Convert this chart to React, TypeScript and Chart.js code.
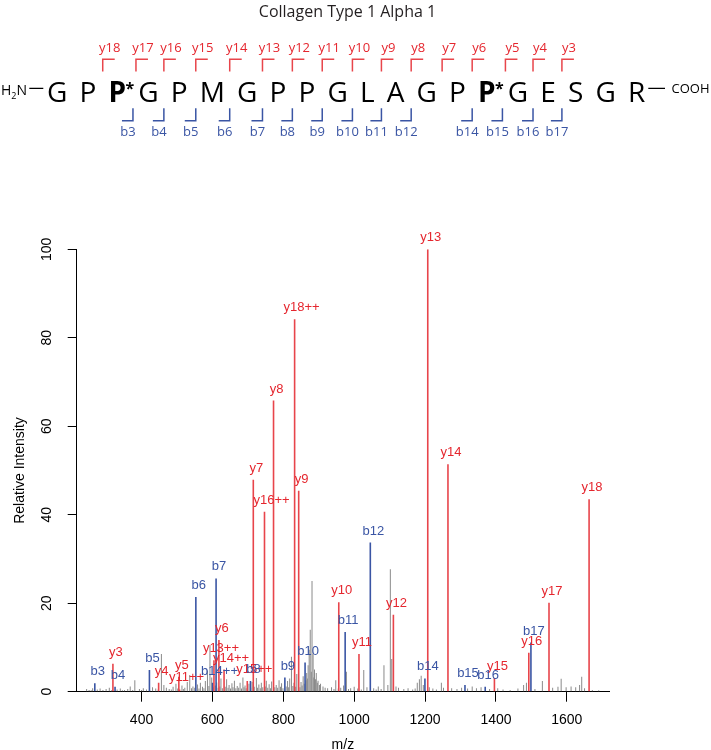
import React, { useEffect, useRef } from 'react';
import { Chart, registerables } from 'chart.js';

Chart.register(...registerables);

// ---------- data ----------
const TITLE = 'Collagen Type 1 Alpha 1';
const sequence = ['G', 'P', 'P*', 'G', 'P', 'M', 'G', 'P', 'P', 'G', 'L', 'A', 'G', 'P', 'P*', 'G', 'E', 'S', 'G', 'R'];
const yIonNumbers = [18, 17, 16, 15, 14, 13, 12, 11, 10, 9, 8, 7, 6, 5, 4, 3];
const bIonNumbers = [3, 4, 5, 6, 7, 8, 9, 10, 11, 12, 14, 15, 16, 17];

const xTicks = [400, 600, 800, 1000, 1200, 1400, 1600];
const yTicks = [0, 20, 40, 60, 80, 100];

const yPeakLabels = ['y3', 'y4', 'y5', 'y11++', 'y13++', 'y6', 'y14++', 'y15++', 'y7', 'y16++', 'y8', 'y18++', 'y9', 'y10', 'y11', 'y12', 'y13', 'y14', 'y15', 'y16', 'y17', 'y18'];
const yPeakMz = [319.2, 448.2, 505.2, 507.3, 604.3, 618.3, 632.8, 698.3, 715.3, 746.9, 772.4, 831.9, 843.4, 956.5, 1013.5, 1110.6, 1207.6, 1264.6, 1395.7, 1492.7, 1549.7, 1662.8];
const yPeakIntensity = [6.3, 2.0, 3.4, 0.5, 7.1, 11.7, 5.0, 2.4, 47.9, 40.7, 65.8, 84.2, 45.4, 20.2, 8.5, 17.4, 100, 51.4, 3.1, 8.8, 20.1, 43.5];

const bPeakLabels = ['b3', 'b4', 'b5', 'b6', 'b14++', 'b7', 'b8', 'b9', 'b10', 'b11', 'b12', 'b14', 'b15', 'b16', 'b17'];
const bPeakMz = [268.1, 325.2, 422.2, 553.2, 600.3, 610.3, 707.3, 804.4, 861.4, 974.5, 1045.5, 1199.6, 1312.6, 1369.7, 1498.7];
const bPeakIntensity = [1.9, 1.1, 4.9, 21.4, 2.0, 25.6, 2.4, 3.2, 6.6, 13.5, 33.7, 3.0, 1.5, 1.1, 11.1];

const noiseMz = [245, 252, 258, 262, 275, 283, 291, 300, 309, 315, 331, 340, 346, 352, 361, 368, 375, 381, 394, 400, 405, 414, 423, 431, 440, 447, 456, 463, 470, 478, 484, 489, 497, 502, 514, 518, 522, 529, 536, 541, 545, 550, 558, 562, 566, 572, 576, 580, 586, 590, 593, 598, 603, 608, 612, 616, 621, 624, 628, 636, 640, 644, 647, 651, 655, 658, 662, 666, 670, 674, 678, 682, 686, 689, 692, 695, 703, 708, 712, 718, 724, 727, 731, 735, 738, 742, 749, 752, 756, 760, 764, 767, 776, 780, 784, 788, 792, 795, 799, 808, 812, 815, 818, 823, 827, 830, 835, 838, 847, 850, 853, 856, 859, 864, 866, 868, 870, 873, 876, 879, 881, 884, 886, 888, 891, 893, 896, 898, 902, 905, 912, 918, 925, 936, 943, 948, 955, 962, 970, 978, 984, 990, 1000, 1010, 1020, 1027, 1036, 1055, 1062, 1068, 1076, 1084, 1095, 1102, 1106, 1118, 1125, 1140, 1152, 1165, 1172, 1178, 1184, 1189, 1195, 1212, 1222, 1232, 1246, 1252, 1275, 1290, 1303, 1320, 1333, 1345, 1358, 1382, 1405, 1420, 1440, 1462, 1478, 1486, 1510, 1531, 1560, 1575, 1584, 1598, 1612, 1625, 1636, 1642, 1650, 1672, 1690];
const noiseIntensity = [0.6, 0.4, 0.3, 0.8, 0.5, 0.7, 0.4, 0.6, 0.9, 0.3, 0.5, 0.7, 0.3, 0.4, 0.6, 1.2, 0.4, 2.6, 0.6, 0.4, 0.8, 0.5, 0.4, 1.0, 0.7, 0.5, 8.5, 1.5, 0.9, 0.6, 0.5, 1.1, 1.8, 0.7, 1.4, 0.6, 0.9, 2.2, 3.8, 0.8, 1.2, 0.9, 1.6, 0.7, 2.0, 1.1, 0.8, 2.4, 4.8, 1.3, 10.5, 3.2, 1.0, 1.4, 2.1, 0.9, 1.2, 3.0, 0.8, 1.1, 2.8, 0.9, 1.5, 0.7, 1.9, 1.0, 2.5, 0.8, 1.3, 0.9, 2.0, 0.7, 3.2, 1.0, 1.4, 0.8, 1.8, 0.9, 2.2, 1.1, 3.1, 0.9, 1.6, 0.8, 2.0, 1.0, 1.2, 2.5, 0.9, 1.7, 0.8, 2.3, 1.0, 1.5, 0.9, 2.6, 1.1, 1.9, 0.8, 1.2, 2.4, 1.0, 3.0, 7.9, 1.3, 2.0, 1.1, 4.0, 1.0, 2.2, 1.4, 3.5, 1.8, 2.6, 4.2, 3.0, 6.0, 9.5, 14.0, 4.5, 25.0, 8.5, 3.2, 5.0, 2.8, 4.2, 2.0, 2.5, 1.5, 1.8, 1.2, 0.9, 0.8, 1.0, 0.6, 2.6, 0.7, 0.9, 1.4, 4.5, 0.6, 0.8, 1.1, 0.7, 0.5, 4.9, 1.0, 0.8, 0.5, 1.2, 0.6, 6.0, 1.5, 27.7, 7.4, 1.2, 0.9, 0.6, 0.8, 0.5, 0.7, 2.0, 2.8, 3.6, 1.5, 1.0, 0.7, 0.5, 2.0, 0.9, 0.8, 0.6, 0.9, 0.7, 1.2, 0.8, 1.0, 0.6, 0.8, 0.5, 0.4, 0.7, 1.5, 2.0, 0.6, 2.4, 0.9, 1.1, 2.9, 1.0, 1.2, 1.0, 1.5, 3.4, 0.8, 0.4, 0.3];

// ---------- styles ----------
const RED = '#E8454B';
const RED_TEXT = '#E5262E';
const BLUE = '#3A55A4';
const GRAY = '#8a8a8a';
const AXIS_FONT = '"Liberation Sans", Arial, sans-serif';
const HEAD_FONT = '"Open Sans", "Noto Sans", sans-serif';

const toPoints = (xs: number[], ys: number[]) => xs.map((x, i) => ({ x, y: ys[i] }));

const headerPlugin = {
  id: 'peptideHeader',
  afterDraw(chart: any) {
    const ctx: CanvasRenderingContext2D = chart.ctx;
    ctx.save();
    ctx.textBaseline = 'alphabetic';
    ctx.textAlign = 'center';

    // title
    ctx.fillStyle = '#231f20';
    ctx.font = `16px ${HEAD_FONT}`;
    ctx.fillText(TITLE, 347.5, 16.5);

    // letters layout
    const widths = sequence.map((s) => {
      ctx.font = `${s.includes('*') ? 'bold ' : ''}28px ${HEAD_FONT}`;
      return ctx.measureText(s[0]).width;
    });
    const raw: number[] = [0];
    for (let i = 1; i < sequence.length; i++) {
      raw.push(raw[i - 1] + widths[i - 1] / 2 + 13 + widths[i] / 2);
    }
    const first = 57.3;
    const last = 636.7;
    const k = (last - first) / raw[raw.length - 1];
    const cx = raw.map((r) => first + r * k);

    const base = 101.7;
    sequence.forEach((s, i) => {
      const bold = s.includes('*');
      ctx.fillStyle = '#000';
      ctx.font = `${bold ? 'bold ' : ''}28px ${HEAD_FONT}`;
      ctx.textAlign = 'center';
      ctx.fillText(s[0], cx[i], base);
      if (bold) {
        ctx.font = `bold 16px ${HEAD_FONT}`;
        ctx.fillText('*', cx[i] + 12.4, base - 8);
      }
    });

    // termini
    ctx.fillStyle = '#000';
    ctx.textAlign = 'left';
    ctx.font = `14px ${HEAD_FONT}`;
    ctx.fillText('H', 1, 94.5);
    const hw = ctx.measureText('H').width;
    ctx.font = `9px ${HEAD_FONT}`;
    ctx.fillText('2', 1 + hw, 98.5);
    const tw = ctx.measureText('2').width;
    ctx.font = `14px ${HEAD_FONT}`;
    ctx.fillText('N', 1 + hw + tw, 94.5);
    ctx.strokeStyle = '#000';
    ctx.lineWidth = 1.3;
    ctx.beginPath();
    ctx.moveTo(29.3, 88.3);
    ctx.lineTo(43.3, 88.3);
    ctx.moveTo(648.3, 88.3);
    ctx.lineTo(665, 88.3);
    ctx.stroke();
    ctx.font = `13px ${HEAD_FONT}`;
    ctx.fillText('COOH', 671.5, 93);

    // y-ion brackets (above)
    ctx.lineWidth = 1.5;
    ctx.textAlign = 'center';
    ctx.font = `13px ${HEAD_FONT}`;
    yIonNumbers.forEach((n) => {
      const site = sequence.length - n; // cleavage after residue `site`
      const afterMod = sequence[site - 1].includes('*') ? 3 : 0;
      const vx = (cx[site - 1] + cx[site]) / 2 + afterMod;
      ctx.strokeStyle = RED;
      ctx.beginPath();
      ctx.moveTo(vx, 71.5);
      ctx.lineTo(vx, 59.3);
      ctx.lineTo(vx + 12, 59.3);
      ctx.stroke();
      ctx.fillStyle = RED_TEXT;
      ctx.fillText('y' + n, vx + 7, 51.5);
    });

    // b-ion brackets (below)
    bIonNumbers.forEach((n) => {
      const vx = (cx[n - 1] + cx[n]) / 2;
      ctx.strokeStyle = BLUE;
      ctx.beginPath();
      ctx.moveTo(vx, 108.3);
      ctx.lineTo(vx, 120.7);
      ctx.lineTo(vx - 11, 120.7);
      ctx.stroke();
      ctx.fillStyle = BLUE;
      ctx.fillText('b' + n, vx - 5, 135.5);
    });

    ctx.restore();
  },
};

const peakLabelPlugin = {
  id: 'peakLabels',
  afterDatasetsDraw(chart: any) {
    const ctx: CanvasRenderingContext2D = chart.ctx;
    ctx.save();
    ctx.font = `13px ${AXIS_FONT}`;
    ctx.textAlign = 'center';
    ctx.textBaseline = 'alphabetic';
    const sets: [number, string[], string][] = [
      [0, yPeakLabels, RED_TEXT],
      [1, bPeakLabels, BLUE],
    ];
    sets.forEach(([di, labels, color]) => {
      const meta = chart.getDatasetMeta(di);
      ctx.fillStyle = color;
      meta.data.forEach((el: any, i: number) => {
        const lab = labels[i];
        const dx = lab.endsWith('++') ? 7 : 3;
        ctx.fillText(lab, el.x + dx, el.y - 8);
      });
    });
    ctx.restore();
  },
};

export default function App() {
  const ref = useRef<HTMLCanvasElement | null>(null);

  useEffect(() => {
    document.body.style.margin = '0';
    const canvas = ref.current;
    if (!canvas) return;
    const chart = new Chart(canvas, {
      type: 'bar',
      data: {
        datasets: [
          {
            label: 'y ions',
            data: toPoints(yPeakMz, yPeakIntensity),
            backgroundColor: RED,
            barThickness: 1.6,
            inflateAmount: 0,
            stack: 'peaks',
            order: 1,
          },
          {
            label: 'b ions',
            data: toPoints(bPeakMz, bPeakIntensity),
            backgroundColor: BLUE,
            barThickness: 1.6,
            inflateAmount: 0,
            stack: 'peaks',
            order: 2,
          },
          {
            label: 'other',
            data: toPoints(noiseMz, noiseIntensity),
            backgroundColor: GRAY,
            barThickness: 1,
            inflateAmount: 0,
            stack: 'peaks',
            order: 3,
          },
        ] as any,
      },
      options: {
        animation: false,
        responsive: false,
        devicePixelRatio: 1,
        layout: { padding: { left: 0, top: 249.3, right: 102, bottom: 0 } },
        plugins: {
          legend: { display: false },
          tooltip: { enabled: false },
          title: { display: false },
        },
        scales: {
          x: {
            type: 'linear',
            min: 217,
            max: 1719,
            offset: false,
            grid: { drawOnChartArea: false, drawTicks: true, tickLength: 10, color: '#000', offset: false },
            border: { display: true, color: '#000', width: 1 },
            ticks: {
              color: '#000',
              padding: 10,
              font: { size: 14, family: AXIS_FONT },
              maxRotation: 0,
              autoSkip: false,
              callback: (v: any) => String(v),
            },
            afterBuildTicks: (s: any) => {
              s.ticks = xTicks.map((v) => ({ value: v }));
            },
            afterFit: (s: any) => {
              s.height = 58.3;
            },
            title: {
              display: true,
              text: 'm/z',
              color: '#000',
              font: { size: 14, family: AXIS_FONT },
              padding: { top: 0, bottom: -3.4 },
            },
          },
          y: {
            type: 'linear',
            min: 0,
            max: 100,
            stacked: false,
            grid: { drawOnChartArea: false, drawTicks: true, tickLength: 9, color: '#000' },
            border: { display: true, color: '#000', width: 1 },
            ticks: {
              color: '#000',
              padding: 9.3,
              minRotation: 90,
              maxRotation: 90,
              crossAlign: 'center',
              font: { size: 14, family: AXIS_FONT },
              callback: (v: any) => String(v),
            },
            afterBuildTicks: (s: any) => {
              s.ticks = yTicks.map((v) => ({ value: v }));
            },
            afterFit: (s: any) => {
              s.width = 76.7;
            },
            title: {
              display: true,
              text: 'Relative Intensity',
              color: '#000',
              font: { size: 14, family: AXIS_FONT },
              padding: { top: 11.6, bottom: 0 },
            },
          },
        },
      } as any,
      plugins: [headerPlugin, peakLabelPlugin],
    });
    return () => chart.destroy();
  }, []);

  return <canvas ref={ref} width={711} height={750} style={{ display: 'block', width: 711, height: 750 }} />;
}
